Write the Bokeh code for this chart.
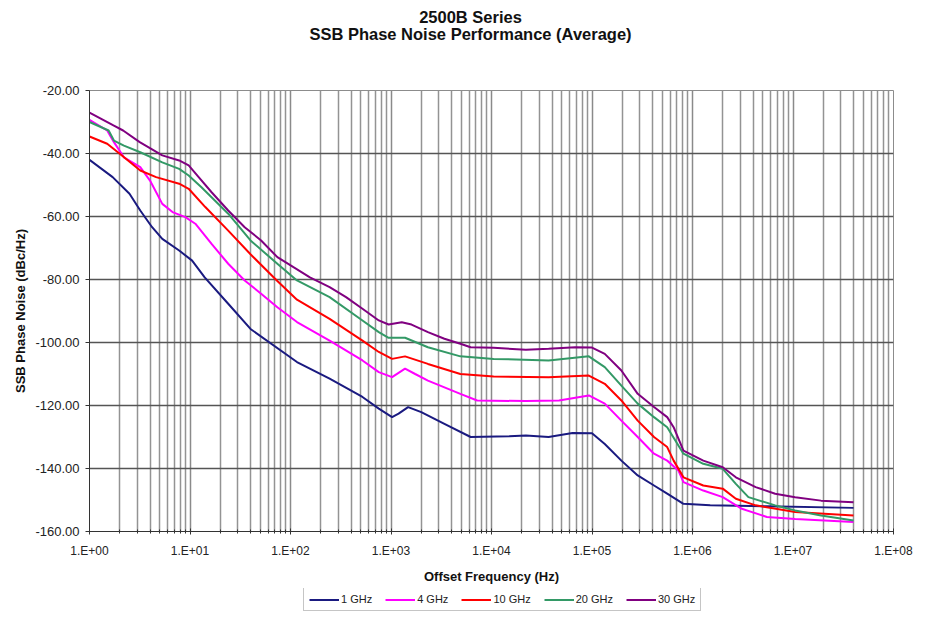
from bokeh.plotting import figure
from bokeh.models import (FixedTicker, CustomJSTickFormatter, NumeralTickFormatter,
                          Legend, LegendItem, Label, Range1d)
from bokeh.layouts import column
from bokeh.embed import file_html
from bokeh.resources import INLINE

# ---------------- data ----------------
series_names = ["1 GHz", "4 GHz", "10 GHz", "20 GHz", "30 GHz"]
series_colors = ["#1a1a80", "#ff00ff", "#ff0000", "#339966", "#800080"]

freq_1 = [1, 1.7, 2.5, 3.2, 4.2, 5.3, 7.8, 10.5, 14, 24, 40, 116, 245, 520, 756, 1025,
          1190, 1480, 2000, 3400, 6200, 15000, 22000, 37000, 64000, 100000, 134000,
          196000, 285000, 414000, 560000, 813000, 1500000, 5500000, 40000000]
val_1 = [-42.0, -47.5, -52.8, -58.1, -63.4, -67.1, -70.8, -74.0, -79.3, -87.7, -95.7,
         -106.2, -111.5, -117.3, -121.0, -123.7, -122.6, -120.5, -122.1, -125.8, -130.0,
         -129.8, -129.5, -130.0, -128.7, -128.8, -132.2, -137.5, -142.2, -145.4, -148.0,
         -151.2, -151.7, -152.0, -152.5]

freq_4 = [1, 1.5, 1.75, 2.2, 3.2, 4, 5.3, 6.7, 9, 11.3, 16.4, 24, 35, 51, 74, 116, 245,
          520, 756, 1025, 1380, 1740, 2330, 4900, 7200, 22000, 47000, 93000, 134000,
          196000, 285000, 414000, 560000, 723000, 813000, 1280000, 2000000, 3100000,
          5500000, 10500000, 40000000]
val_4 = [-29.3, -32.7, -36.4, -41.2, -44.3, -48.6, -56.0, -58.6, -60.2, -62.3, -68.7,
         -75.0, -80.3, -84.5, -88.8, -93.5, -99.4, -105.7, -109.4, -111.0, -108.3,
         -110.0, -112.1, -116.3, -118.4, -118.6, -118.4, -116.8, -119.4, -124.8, -130.0,
         -135.3, -137.5, -140.6, -144.3, -147.0, -149.1, -152.8, -155.4, -156.0, -157.0]

freq_10 = [1, 1.5, 2, 3.2, 4.6, 7.8, 9.7, 14.2, 24, 40, 74, 116, 245, 520, 756, 1025,
           1380, 2330, 4900, 10500, 37000, 93000, 134000, 196000, 285000, 414000, 560000,
           649000, 813000, 1280000, 2000000, 2700000, 4250000, 10500000, 40000000]
val_10 = [-34.6, -36.9, -40.1, -45.4, -47.5, -49.6, -51.2, -57.0, -64.5, -72.0, -80.5,
          -86.4, -92.5, -99.4, -103.0, -105.2, -104.4, -106.8, -110.0, -110.8, -111.0,
          -110.5, -113.1, -118.4, -124.8, -130.0, -133.2, -137.5, -142.8, -145.4, -146.4,
          -149.6, -151.7, -153.8, -154.9]

freq_20 = [1, 1.55, 1.75, 2.2, 3.2, 5.3, 7.8, 9.7, 13, 24, 40, 74, 116, 245, 520, 756,
           946, 1380, 2330, 4900, 10500, 37000, 93000, 134000, 196000, 285000, 414000,
           560000, 813000, 1280000, 2000000, 2700000, 3600000, 6650000, 10500000,
           19000000, 40000000]
val_20 = [-30.0, -32.7, -35.9, -37.5, -39.6, -42.8, -44.9, -47.0, -50.7, -59.1, -67.6,
          -75.0, -80.3, -85.6, -93.0, -96.7, -98.5, -98.5, -101.5, -104.4, -105.2,
          -105.7, -104.4, -107.8, -113.7, -119.4, -123.7, -126.9, -135.3, -138.5, -140.1,
          -144.9, -149.1, -151.7, -153.3, -154.9, -156.5]

freq_30 = [1, 1.73, 2.16, 3.16, 5.3, 7.8, 9.7, 12.2, 16.4, 24, 35, 51, 74, 107, 156, 245,
           357, 520, 756, 946, 1280, 1600, 2330, 3400, 4900, 6200, 10500, 22000, 37000,
           68000, 100000, 134000, 196000, 285000, 414000, 560000, 649000, 813000,
           1280000, 2000000, 2700000, 4250000, 6650000, 10500000, 19000000, 40000000]
val_30 = [-27.0, -31.1, -32.7, -36.4, -40.6, -42.2, -43.8, -47.5, -52.3, -58.1, -63.4,
          -67.6, -72.9, -76.1, -79.3, -82.4, -85.6, -89.3, -93.0, -94.3, -93.6, -94.3,
          -96.7, -98.8, -100.4, -101.5, -101.7, -102.3, -102.0, -101.5, -101.6, -103.6,
          -108.9, -116.3, -120.5, -123.7, -126.9, -134.3, -137.5, -139.6, -142.8,
          -145.9, -148.0, -149.1, -150.2, -150.7]

x_major_ticks = [1, 10, 100, 1000, 10000, 100000, 1000000, 10000000, 100000000]
y_ticks = [-160, -140, -120, -100, -80, -60, -40, -20]

title_line1 = "2500B Series"
title_line2 = "SSB Phase Noise Performance (Average)"
x_title = "Offset Frequency (Hz)"
y_title = "SSB Phase Noise (dBc/Hz)"

FONT = "Liberation Sans"
W = 913
LEFT, RIGHT = 89, 20          # frame borders (px); frames of the column are aligned

# ---------------- title strip ----------------
T_H = 44
t = figure(width=W, height=T_H, x_range=Range1d(LEFT, W - RIGHT), y_range=Range1d(0, T_H),
           x_axis_location=None, y_axis_location=None, toolbar_location=None,
           output_backend="svg", min_border=0)
t.grid.visible = False
t.outline_line_color = None
t.border_fill_color = "white"
for txt, yy in ((title_line1, T_H - 16), (title_line2, T_H - 33)):
    t.add_layout(Label(x=470, y=yy, text=txt, text_align="center", text_baseline="middle",
                       text_font=FONT, text_font_size="16.5px", text_font_style="bold",
                       text_color="#111111"))

# ---------------- main chart ----------------
P_H = 544
p = figure(width=W, height=P_H, x_axis_type="log",
           x_range=Range1d(1, 1e8), y_range=Range1d(-160, -20),
           output_backend="svg", toolbar_location=None,
           min_border_left=LEFT, min_border_right=RIGHT, min_border_top=90 - T_H,
           min_border_bottom=P_H - (531 - T_H))
p.background_fill_color = "white"
p.border_fill_color = "white"
p.outline_line_color = "#8c8c8c"

minor_x = [m * d for d in x_major_ticks[:-1] for m in range(2, 10)]
p.xaxis.ticker = FixedTicker(ticks=x_major_ticks, minor_ticks=minor_x)
p.xaxis.formatter = CustomJSTickFormatter(code="""
    const e = Math.round(Math.log10(tick));
    return '1.E+' + (e < 10 ? '0' + e : String(e));
""")
p.xaxis.axis_label = x_title
p.xaxis.axis_label_text_font = FONT
p.xaxis.axis_label_text_font_size = "13px"
p.xaxis.axis_label_text_font_style = "bold"
p.xaxis.axis_label_text_color = "#111111"
p.xaxis.axis_label_standoff = 8
p.xaxis.major_label_text_font = FONT
p.xaxis.major_label_text_font_size = "12px"
p.xaxis.major_label_text_color = "#222222"
p.xaxis.major_label_standoff = 9
p.xaxis.major_tick_in = 3
p.xaxis.major_tick_out = 3
p.xaxis.minor_tick_in = 2
p.xaxis.minor_tick_out = 2
p.xaxis.axis_line_color = "#333333"
p.xaxis.major_tick_line_color = "#333333"
p.xaxis.minor_tick_line_color = "#333333"

p.yaxis.ticker = FixedTicker(ticks=y_ticks)
p.yaxis.formatter = NumeralTickFormatter(format="0.00")
p.yaxis.axis_label = y_title
p.yaxis.axis_label_text_font = FONT
p.yaxis.axis_label_text_font_size = "13px"
p.yaxis.axis_label_text_font_style = "bold"
p.yaxis.axis_label_text_color = "#111111"
p.yaxis.axis_label_standoff = 4
p.yaxis.major_label_text_font = FONT
p.yaxis.major_label_text_font_size = "13px"
p.yaxis.major_label_text_color = "#222222"
p.yaxis.major_label_standoff = 6
p.yaxis.major_tick_in = 0
p.yaxis.major_tick_out = 4
p.yaxis.minor_tick_line_color = None
p.yaxis.axis_line_color = "#333333"
p.yaxis.major_tick_line_color = "#333333"

p.xgrid.grid_line_color = "#8a8a8a"
p.xgrid.minor_grid_line_color = "#939393"
p.xgrid.grid_line_width = 1.5
p.xgrid.minor_grid_line_width = 1.5
p.ygrid.grid_line_color = "#555555"
p.ygrid.grid_line_width = 1.6

data = [(freq_1, val_1), (freq_4, val_4), (freq_10, val_10), (freq_20, val_20), (freq_30, val_30)]
for (fx, vy), col in zip(data, series_colors):
    p.line(fx, vy, line_color=col, line_width=2)

# ---------------- legend strip ----------------
L_H = 612 - T_H - P_H
lg = figure(width=W, height=L_H, x_range=Range1d(0, 1), y_range=Range1d(0, 1),
            x_axis_location=None, y_axis_location=None, toolbar_location=None,
            output_backend="svg", min_border=0)
lg.grid.visible = False
lg.outline_line_color = None
lg.border_fill_color = "white"
items = []
for name, col in zip(series_names, series_colors):
    # key lines for the legend only, kept outside the strip's visible range
    r = lg.line([5, 6], [5, 6], line_color=col, line_width=2)
    items.append(LegendItem(label=name, renderers=[r]))
legend = Legend(items=items, orientation="horizontal", location=(303 - LEFT, 1),
                border_line_color="#8c8c8c", border_line_width=1.5,
                label_text_font=FONT, label_text_font_size="11px",
                label_text_color="#222222", glyph_width=30, glyph_height=11,
                label_standoff=2, spacing=13, padding=5, margin=0,
                label_height=11, background_fill_color="white")
lg.add_layout(legend)

layout = column(t, p, lg, spacing=0)
open("out.html", "w").write(file_html(layout, INLINE))
